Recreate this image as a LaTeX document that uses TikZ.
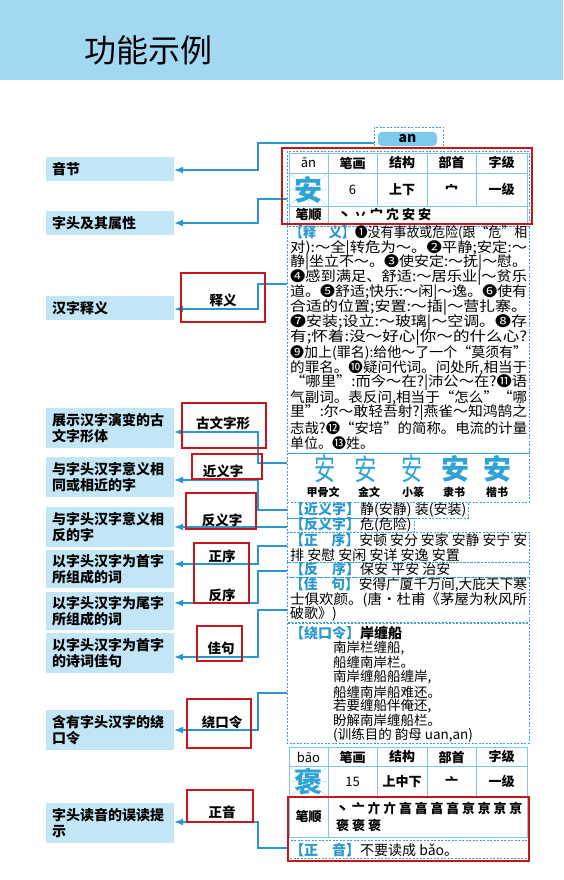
\documentclass[tikz,border=0pt]{standalone}
\usepackage{fontspec}
\usepackage{graphicx}
\setmainfont{Noto Sans CJK SC}
\usetikzlibrary{arrows.meta}
\definecolor{hdr}{HTML}{A3D8F2}
\definecolor{lbox}{HTML}{C3E6F7}
\definecolor{cblue}{HTML}{2A98CF}
\definecolor{rboxc}{HTML}{C8161D}
\definecolor{tlinec}{HTML}{7EC8E6}
\definecolor{dblue}{HTML}{3AA0D5}
\definecolor{gblue}{HTML}{2FA3D6}
\definecolor{pillc}{HTML}{7CCBEE}
\newsavebox\fitbox
\newcommand\fitline[2]{\sbox\fitbox{#2}\pgfmathsetmacro\fitsx{#1/\the\wd\fitbox}\scalebox{\fitsx}[1]{\usebox\fitbox}}
\newcommand\lab[1]{{\color{cblue}\bfseries #1}}
\newcommand\bodyf{\fontsize{14}{15}\selectfont}
\begin{document}
\begin{tikzpicture}[x=1pt,y=-1pt,
  lb/.style={fill=lbox, minimum width=128pt, text width=116pt, inner xsep=6pt, inner ysep=0pt, align=left, font=\fontsize{14}{16}\selectfont\bfseries},
  rb/.style={draw=rboxc, line width=1.8pt},
  lbl/.style={inner sep=0pt, font=\fontsize{13.5}{15}\selectfont\bfseries},
  tl/.style={draw=tlinec, line width=0.9pt},
  db/.style={draw=dblue, line width=0.9pt, dash pattern=on 2pt off 1.5pt},
  conn/.style={draw=cblue, line width=1.1pt, -{Latex[length=9pt,width=7pt]}},
  ln/.style={anchor=west, inner sep=0pt, font=\bodyf},
  tc/.style={inner sep=0pt, font=\fontsize{13}{14}\selectfont\bfseries},
  glyph/.style={inner sep=0pt, text=gblue, font=\fontsize{28}{28}\selectfont\bfseries},
  grid/.style={draw=tlinec, line width=0.5pt, dash pattern=on 1.5pt off 1.5pt}
]
\useasboundingbox (0,0) rectangle (563,880);
\fill[white] (0,0) rectangle (563,880);
% header
\fill[hdr] (0,0) rectangle (563,80);
\node[inner sep=0pt, font=\fontsize{32}{32}\selectfont] (title) at (148,50) {功能示例};

% left boxes
\node[lb, minimum height=24pt] (l1) at (110,169) {音节};
\node[lb, minimum height=24pt] (l2) at (110,223) {字头及其属性};
\node[lb, minimum height=24pt] (l3) at (110,308) {汉字释义};
\node[lb, minimum height=40pt] (l4) at (110,428) {展示汉字演变的古\\文字形体};
\node[lb, minimum height=40pt] (l5) at (110,477) {与字头汉字意义相\\同或相近的字};
\node[lb, minimum height=40pt] (l6) at (110,527) {与字头汉字意义相\\反的字};
\node[lb, minimum height=38pt] (l7) at (110,569) {以字头汉字为首字\\所组成的词};
\node[lb, minimum height=38pt] (l8) at (110,611) {以字头汉字为尾字\\所组成的词};
\node[lb, minimum height=40pt] (l9) at (110,653) {以字头汉字为首字\\的诗词佳句};
\node[lb, minimum height=40pt] (l10) at (110,730) {含有字头汉字的绕\\口令};
\node[lb, minimum height=40pt] (l11) at (110,823) {字头读音的误读提\\示};

% right column: an box
\node[db, minimum width=69pt, minimum height=20pt, inner sep=0pt] (anbox) at (408.5,137) {};
\node[fill=pillc, rounded corners=4pt, minimum width=59pt, minimum height=14pt, inner sep=0pt, font=\fontsize{14}{14}\selectfont\bfseries] (an) at (407.5,139) {an};

% table 1
\draw[db] (287,151) rectangle (529,226);
\draw[tl] (289,153) rectangle (527,224);
\draw[tl] (289,173) -- (527,173) (289,206) -- (527,206);
\draw[tl] (328,153) -- (328,224);
\foreach \x in {377,427,476} \draw[tl] (\x,153) -- (\x,206);
\draw[grid] (289,173) -- (328,206) (328,173) -- (289,206) (308.5,173) -- (308.5,206) (289,189.5) -- (328,189.5);
\node[tc, font=\fontsize{13}{14}\selectfont] (t1a) at (308.5,163) {ān};
\node[tc] (t1b) at (352.5,163) {笔画};
\node[tc] (t1c) at (402,163) {结构};
\node[tc] (t1d) at (451.5,163) {部首};
\node[tc] (t1e) at (501.5,163) {字级};
\node[glyph] (g1) at (308.5,190) {安};
\node[tc, font=\fontsize{13}{14}\selectfont] (t1f) at (352.5,190) {6};
\node[tc] (t1g) at (402,190) {上下};
\node[tc] (t1h) at (451.5,190) {宀};
\node[tc] (t1i) at (501.5,190) {一级};
\node[tc] (t1j) at (308.5,215) {笔顺};
\node[ln, font=\fontsize{13}{14}\selectfont\bfseries] (t1k) at (338,215) {丶 丷 宀 宂 安 安};

% definition
\draw[db] (287,226) rectangle (529,453);
\node[ln] (d1) at (290,233) {\fitline{237}{\lab{【释　义】}❶没有事故或危险(跟“危”相}};
\node[ln] (d2) at (290,248) {\fitline{237}{对):～全|转危为～。❷平静;安定:～}};
\node[ln] (d3) at (290,263) {\fitline{237}{静|坐立不～。❸使安定:～抚|～慰。}};
\node[ln] (d4) at (290,278) {\fitline{237}{❹感到满足、舒适:～居乐业|～贫乐}};
\node[ln] (d5) at (290,293) {\fitline{237}{道。❺舒适;快乐:～闲|～逸。❻使有}};
\node[ln] (d6) at (290,308) {\fitline{237}{合适的位置;安置:～插|～营扎寨。}};
\node[ln] (d7) at (290,323) {\fitline{237}{❼安装;设立:～玻璃|～空调。❽存}};
\node[ln] (d8) at (290,338) {\fitline{237}{有;怀着:没～好心|你～的什么心?}};
\node[ln] (d9) at (290,353) {\fitline{237}{❾加上(罪名):给他～了一个“莫须有”}};
\node[ln] (d10) at (290,368) {\fitline{237}{的罪名。❿疑问代词。问处所,相当于}};
\node[ln] (d11) at (290,383) {\fitline{237}{“哪里”:而今～在?|沛公～在?⓫语}};
\node[ln] (d12) at (290,398) {\fitline{237}{气副词。表反问,相当于“怎么”“哪}};
\node[ln] (d13) at (290,413) {\fitline{237}{里”:尔～敢轻吾射?|燕雀～知鸿鹄之}};
\node[ln] (d14) at (290,428) {\fitline{237}{志哉?⓬“安培”的简称。电流的计量}};
\node[ln] (d15) at (290,443) {单位。⓭姓。};

% ancient forms
\draw[db] (287,453) rectangle (529,502);
\node[glyph] (a1) at (325,469) {\scalebox{0.75}[1.1]{\mdseries 安}};
\node[glyph] (a2) at (366,469) {\scalebox{0.8}[1.05]{\mdseries 安}};
\node[glyph] (a3) at (412,469) {\scalebox{0.75}[1.1]{\mdseries 安}};
\node[glyph] (a4) at (455,469) {安};
\node[glyph] (a5) at (497,469) {安};
\node[lbl, font=\fontsize{11}{12}\selectfont\bfseries] (n1) at (323,492) {甲骨文};
\node[lbl, font=\fontsize{11}{12}\selectfont\bfseries] (n2) at (369,492) {金文};
\node[lbl, font=\fontsize{11}{12}\selectfont\bfseries] (n3) at (413,492) {小篆};
\node[lbl, font=\fontsize{11}{12}\selectfont\bfseries] (n4) at (454,492) {隶书};
\node[lbl, font=\fontsize{11}{12}\selectfont\bfseries] (n5) at (497,492) {楷书};

% rows
\draw[db] (287,502) rectangle (468,518);
\draw[db] (287,518) rectangle (414,532);
\draw[db] (287,532) rectangle (529,562);
\draw[db] (287,562) rectangle (529,577);
\draw[db] (287,577) rectangle (529,622);
\draw[db] (287,623) rectangle (529,743);
\node[ln] (s1) at (290,510) {\lab{【近义字】}静(安静) 装(安装)};
\node[ln] (s2) at (290,525) {\lab{【反义字】}危(危险)};
\node[ln] (s3) at (290,540) {\fitline{237}{\lab{【正　序】}安顿 安分 安家 安静 安宁 安}};
\node[ln] (s4) at (290,555) {排 安慰 安闲 安详 安逸 安置};
\node[ln] (s5) at (290,569) {\lab{【反　序】}保安 平安 治安};
\node[ln] (s6) at (290,585) {\fitline{237}{\lab{【佳　句】}安得广厦千万间,大庇天下寒}};
\node[ln] (s7) at (290,600) {\fitline{237}{士俱欢颜。(唐・杜甫《茅屋为秋风所}};
\node[ln] (s8) at (290,614) {破歌》)};
\node[ln] (s9) at (290,633) {\lab{【绕口令】}\textbf{岸缠船}};
\node[ln, font=\fontsize{13.5}{14}\selectfont] (p1) at (333,648) {南岸栏缠船,};
\node[ln, font=\fontsize{13.5}{14}\selectfont] (p2) at (333,662) {船缠南岸栏。};
\node[ln, font=\fontsize{13.5}{14}\selectfont] (p3) at (333,677) {南岸缠船船缠岸,};
\node[ln, font=\fontsize{13.5}{14}\selectfont] (p4) at (333,692) {船缠南岸船难还。};
\node[ln, font=\fontsize{13.5}{14}\selectfont] (p5) at (333,706) {若要缠船伴俺还,};
\node[ln, font=\fontsize{13.5}{14}\selectfont] (p6) at (333,720) {盼解南岸缠船栏。};
\node[ln, font=\fontsize{13.5}{14}\selectfont] (p7) at (333,735) {(训练目的 韵母 uan,an)};

% table 2
\draw[tl] (289,747) rectangle (527,837);
\draw[tl] (289,766) -- (527,766) (289,797) -- (527,797);
\draw[tl] (328,747) -- (328,837);
\foreach \x in {377,427,476} \draw[tl] (\x,747) -- (\x,797);
\draw[grid] (289,766) -- (328,797) (328,766) -- (289,797) (308.5,766) -- (308.5,797) (289,781.5) -- (328,781.5);
\node[tc, font=\fontsize{13}{14}\selectfont] (u1a) at (308.5,757) {bāo};
\node[tc] (u1b) at (352.5,757) {笔画};
\node[tc] (u1c) at (402,757) {结构};
\node[tc] (u1d) at (451.5,757) {部首};
\node[tc] (u1e) at (501.5,757) {字级};
\node[glyph] (g2) at (308.5,782) {褒};
\node[tc, font=\fontsize{13}{14}\selectfont] (u1f) at (352.5,782) {15};
\node[tc] (u1g) at (402,782) {上中下};
\node[tc] (u1h) at (451.5,782) {亠};
\node[tc] (u1i) at (501.5,782) {一级};
\node[tc] (u1j) at (308.5,817) {笔顺};
\node[ln, font=\fontsize{13}{14}\selectfont\bfseries] (u1k) at (336,808) {\fitline{186}{丶 亠 亣 亣 亯 亯 亯 亯 亰 亰 亰 亰}};
\node[ln, font=\fontsize{13}{14}\selectfont\bfseries] (u1l) at (336,826) {褒 褒 褒};
\draw[db] (287,840) rectangle (529,858);
\node[ln] (z1) at (290,850) {\lab{【正　音】}不要读成 bǎo。};

% connectors
\coordinate (r1) at (374,143);  \coordinate (b1) at (258,170);
\coordinate (r2) at (287,199);  \coordinate (b2) at (258,223);
\coordinate (r3) at (287,284);  \coordinate (b3) at (258,309);
\coordinate (r4) at (287,463);  \coordinate (b4) at (258,432);
\coordinate (r5) at (287,510);  \coordinate (b5) at (258,480);
\coordinate (r6) at (287,527);
\coordinate (r7) at (287,546);  \coordinate (b7) at (258,564);
\coordinate (r8) at (287,571);  \coordinate (b8) at (258,603);
\coordinate (r9) at (287,610);  \coordinate (b9) at (258,657);
\coordinate (r10) at (287,693); \coordinate (b10) at (258,730);
\coordinate (r11) at (287,848); \coordinate (b11) at (258,822);
\draw[conn] (r1) -| (b1) -- (l1.east |- b1);
\draw[conn] (r2) -| (b2) -- (l2.east |- b2);
\draw[conn] (r3) -| (b3) -- (l3.east |- b3);
\draw[conn] (r4) -| (b4) -- (l4.east |- b4);
\draw[conn] (r5) -| (b5) -- (l5.east |- b5);
\draw[conn] (r6) -- (l6.east |- r6);
\draw[conn] (r7) -| (b7) -- (l7.east |- b7);
\draw[conn] (r8) -| (b8) -- (l8.east |- b8);
\draw[conn] (r9) -| (b9) -- (l9.east |- b9);
\draw[conn] (r10) -| (b10) -- (l10.east |- b10);
\draw[conn] (r11) -| (b11) -- (l11.east |- b11);

% red boxes
\draw[rb] (282,148) rectangle (532,224);
\draw[rb] (288,797) rectangle (529,861);
\draw[rb] (181,273) rectangle (265,322);
\draw[rb] (182,403) rectangle (266,448);
\draw[rb] (192,454) rectangle (262,479);
\draw[rb] (186,493) rectangle (256,529);
\draw[rb] (194,543) rectangle (249,603);
\draw[rb] (197,626) rectangle (242,661);
\draw[rb] (187,699) rectangle (251,748);
\draw[rb] (187,790) rectangle (253,822);
\node[lbl] (m1) at (223,300) {释义};
\node[lbl] (m2) at (223,423) {古文字形};
\node[lbl] (m3) at (223,471) {近义字};
\node[lbl] (m4) at (222,520) {反义字};
\node[lbl] (m5) at (222,556) {正序};
\node[lbl] (m6) at (222,595) {反序};
\node[lbl] (m7) at (221,648) {佳句};
\node[lbl] (m8) at (222,722) {绕口令};
\node[lbl] (m9) at (222,812) {正音};
\end{tikzpicture}
\end{document}
